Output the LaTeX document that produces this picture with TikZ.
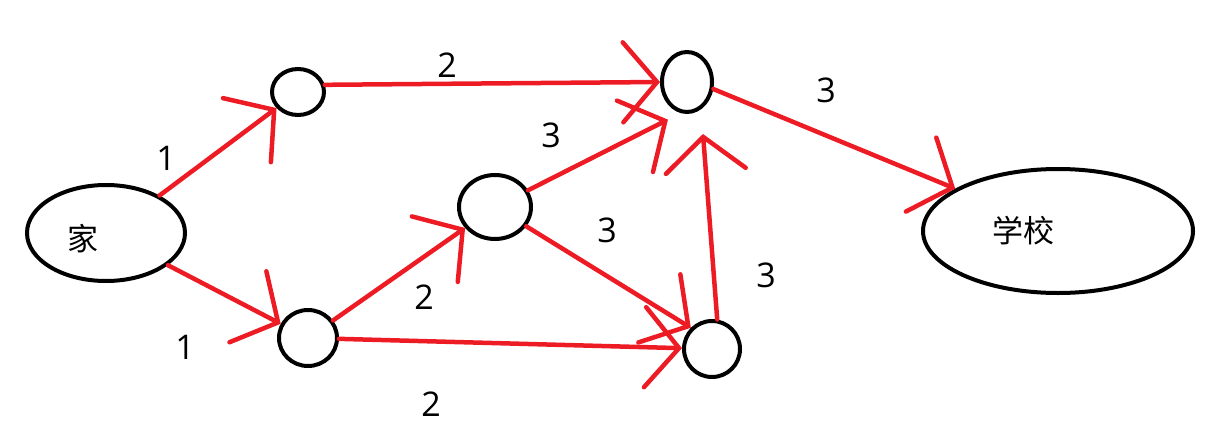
\documentclass[tikz,border=0pt]{standalone}
\usepackage{fontspec}
\setmainfont{Open Sans}
\newfontfamily\cjk{Noto Sans CJK SC}
\usetikzlibrary{arrows.meta,shapes.geometric}
\definecolor{pred}{HTML}{ED1C24}
\begin{document}
\begin{tikzpicture}[x=1pt,y=-1pt,
  vtx/.style={draw=black,line width=4pt,ellipse,inner sep=0pt},
  edg/.style={draw=pred,line width=4.5pt,line cap=round,-{Straight Barb[length=34pt,width=80pt,line cap=round]}},
  num/.style={font=\fontsize{34}{40}\selectfont,inner sep=0pt},
  cjkt/.style={font=\cjk\fontsize{31}{36}\selectfont,inner sep=0pt}]
\useasboundingbox (0,0) rectangle (1231,444);
% vertices
\node[vtx,minimum width=158pt,minimum height=96pt] (home) at (106,233) {};
\node[vtx,minimum width=52pt,minimum height=46pt] (A) at (298,92) {};
\node[vtx,minimum width=58pt,minimum height=56pt] (B) at (308,338) {};
\node[vtx,minimum width=72pt,minimum height=64pt] (C) at (495,207) {};
\node[vtx,minimum width=50pt,minimum height=60pt] (D) at (687,82) {};
\node[vtx,minimum width=56pt,minimum height=56pt] (E) at (712,349) {};
\node[vtx,minimum width=270pt,minimum height=124pt] (school) at (1058,231) {};
\node[cjkt] (homeT) at (83,239) {家};
\node[cjkt] (schoolT) at (1023,231) {学校};
% edges
\draw[edg] (home.35) -- (A);
\draw[edg] (home) -- (B);
\draw[edg] (A.15) -- (D.west);
\draw[edg] (B) -- (C);
\draw[edg] (B) -- (E);
\draw[edg] (C) -- ([yshift=-15pt]D.south west);
\draw[edg] (C) -- (E.north west);
\draw[edg] (E.80) -- ([xshift=16pt,yshift=-20pt]D.south);
\draw[edg] (D.-15) -- (school);
% labels
\node[num] (l1) at (166,158) {1};
\node[num] (l2) at (185,347) {1};
\node[num] (l3) at (447,65) {2};
\node[num] (l4) at (424,297) {2};
\node[num] (l5) at (431,404) {2};
\node[num] (l6) at (551,135) {3};
\node[num] (l7) at (607,230) {3};
\node[num] (l8) at (766,275) {3};
\node[num] (l9) at (826,90) {3};
\end{tikzpicture}
\end{document}
